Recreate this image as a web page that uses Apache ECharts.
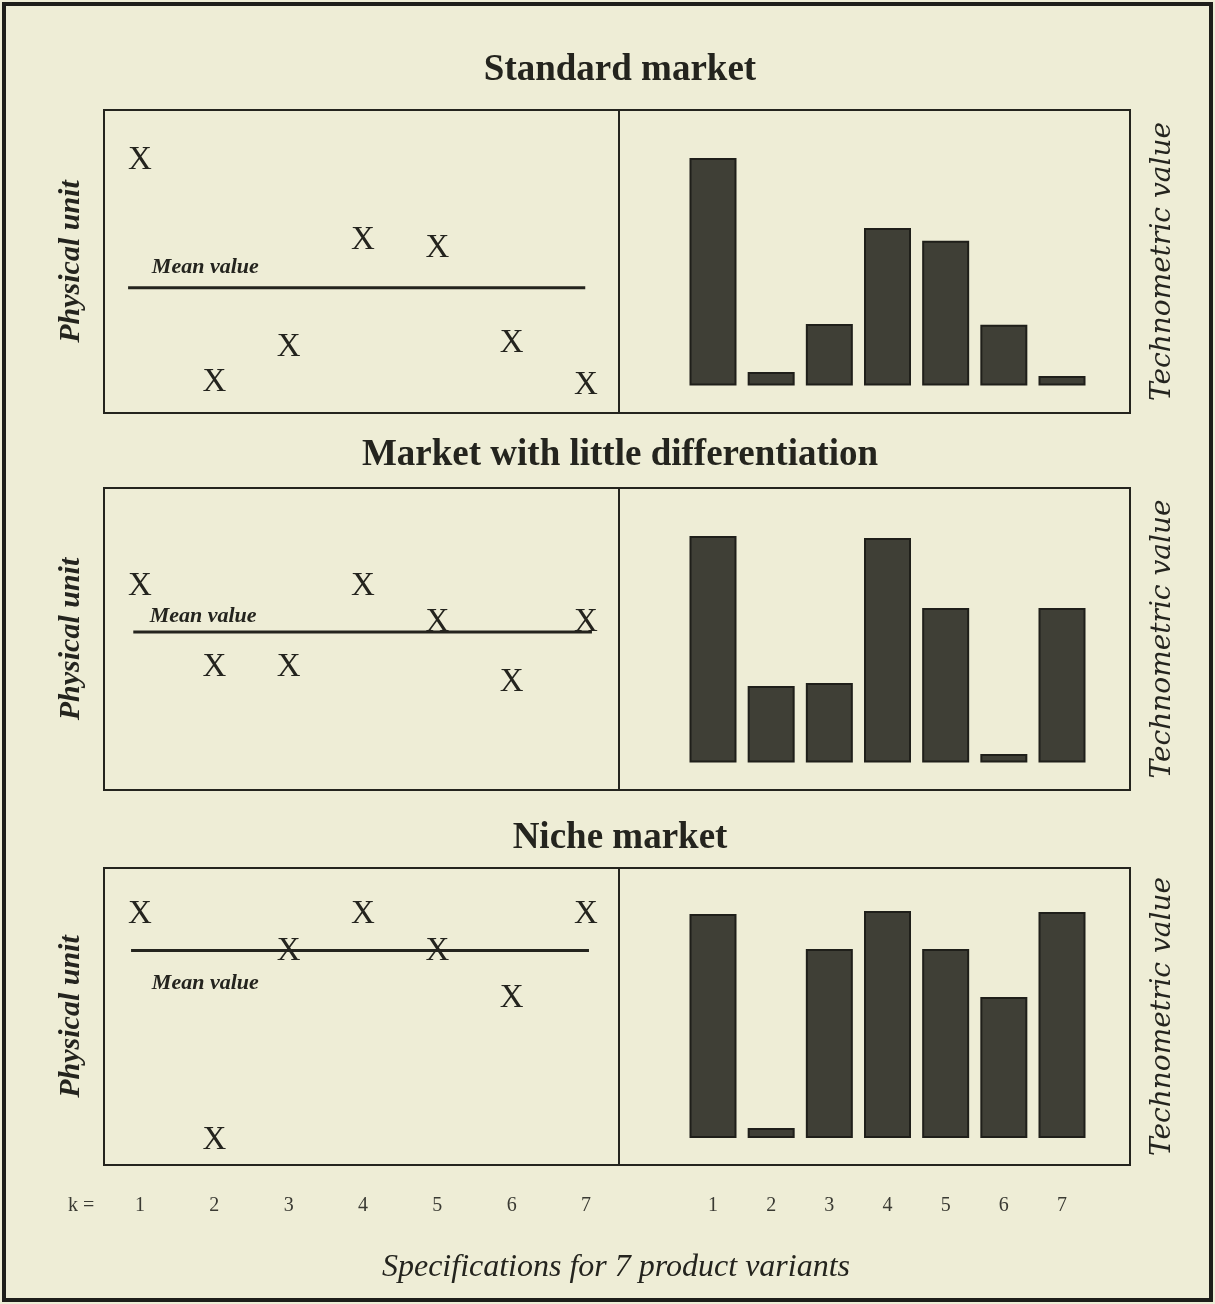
<!DOCTYPE html>
<html>
<head>
<meta charset="utf-8">
<script src="https://cdn.jsdelivr.net/npm/echarts@6/dist/echarts.min.js"></script>
<style>
html,body{margin:0;padding:0;background:#eeedd6;}
#chart{width:1215px;height:1304px;}
</style>
</head>
<body>
<div id="chart"></div>
<script>
// ---- data ----
const categories = [1, 2, 3, 4, 5, 6, 7];
const tickLabels = ['1', '2', '3', '4', '5', '6', '7'];
const panelTitles = ['Standard market', 'Market with little differentiation', 'Niche market'];
const physStandard = [8.35, 1.02, 2.18, 5.71, 5.45, 2.31, 0.92];
const physLittle   = [6.75, 4.07, 4.07, 6.75, 5.56, 3.58, 5.56];
const physNiche    = [8.45, 0.84, 7.21, 8.45, 7.21, 5.62, 8.45];
const meanValues = [4.13, 5.23, 7.22];
const meanStart  = [0.84, 0.91, 0.88];
const meanEnd    = [6.99, 7.08, 7.04];
const meanLabelX = [1.16, 1.13, 1.16];
const techStandard = [8.26, 0.49, 2.23, 5.72, 5.25, 2.20, 0.34];
const techLittle   = [8.25, 2.79, 2.90, 8.18, 5.63, 0.31, 5.63];
const techNiche    = [8.30, 0.37, 7.00, 8.41, 7.00, 5.22, 8.37];

const physSeries = [physStandard, physLittle, physNiche];
const techSeries = [techStandard, techLittle, techNiche];

// ---- layout ----
const W = 1215, H = 1304;
const boxTop = [110, 488, 868];
const boxBottom = [413, 790, 1165];
const leftX = 104, divX = 619, rightX = 1130;
const titleCY = [70, 455, 838];
const meanLabelDy = [-21, -16, 33];
const ink = '#24241e';
const serif = 'Liberation Serif';

const chart = echarts.init(document.getElementById('chart'), null, {renderer: 'canvas'});

const grids = [], xAxes = [], yAxes = [], series = [], graphics = [];
for (let p = 0; p < 3; p++) {
  const top = boxTop[p], bottom = H - boxBottom[p];
  grids.push({left: leftX, right: W - divX, top: top, bottom: bottom, show: true,
    borderColor: ink, borderWidth: 2, backgroundColor: 'transparent', containLabel: false});
  grids.push({left: divX, right: W - rightX, top: top, bottom: bottom, show: true,
    borderColor: ink, borderWidth: 2, backgroundColor: 'transparent', containLabel: false});
  const last = p === 2;
  const gs = p * 2, gb = p * 2 + 1;
  xAxes.push({type: 'value', gridIndex: gs, min: 0.516, max: 7.444,
    axisLine: {show: false}, axisTick: {show: false}, splitLine: {show: false},
    axisLabel: {show: last, customValues: categories, formatter: v => tickLabels[v - 1],
      margin: 31, fontFamily: serif, fontSize: 20, color: '#3a3a33'}});
  xAxes.push({type: 'value', gridIndex: gb, min: -0.616, max: 8.169,
    axisLine: {show: false}, axisTick: {show: false}, splitLine: {show: false},
    axisLabel: {show: last, customValues: categories, formatter: v => tickLabels[v - 1],
      margin: 31, fontFamily: serif, fontSize: 20, color: '#3a3a33'}});
  yAxes.push({type: 'value', gridIndex: gs, min: 0, max: 10,
    name: 'Physical unit', nameLocation: 'middle', nameRotate: 90, nameGap: 18,
    nameTextStyle: {fontFamily: serif, fontSize: 30, fontWeight: 'bold', fontStyle: 'italic', color: ink},
    axisLine: {show: false}, axisTick: {show: false}, splitLine: {show: false}, axisLabel: {show: false}});
  yAxes.push({type: 'value', gridIndex: gb, min: -1, max: 10, position: 'right',
    name: 'Technometric value', nameLocation: 'middle', nameRotate: 90, nameGap: 19,
    nameTextStyle: {fontFamily: 'DejaVu Serif', fontSize: 28, fontStyle: 'italic', color: ink},
    axisLine: {show: false}, axisTick: {show: false}, splitLine: {show: false}, axisLabel: {show: false}});

  // mean line
  series.push({type: 'line', xAxisIndex: gs, yAxisIndex: gs, symbol: 'none', silent: true,
    lineStyle: {color: ink, width: 3}, z: 2,
    data: [[meanStart[p], meanValues[p]], [meanEnd[p], meanValues[p]]]});
  // mean label
  series.push({type: 'scatter', xAxisIndex: gs, yAxisIndex: gs, symbolSize: 0, silent: true,
    itemStyle: {color: 'rgba(0,0,0,0)', opacity: 1},
    label: {show: true, formatter: 'Mean value', position: [0, meanLabelDy[p]], align: 'left', verticalAlign: 'middle',
      fontFamily: serif, fontSize: 22, fontStyle: 'italic', fontWeight: 'bold', color: ink, opacity: 1},
    data: [[meanLabelX[p], meanValues[p]]]});
  // X marks
  series.push({type: 'scatter', xAxisIndex: gs, yAxisIndex: gs, symbolSize: 1, silent: true, z: 3,
    itemStyle: {color: 'rgba(0,0,0,0)', opacity: 1},
    label: {show: true, formatter: 'X', position: 'inside', align: 'center', verticalAlign: 'middle',
      fontFamily: serif, fontSize: 33, color: ink, opacity: 1},
    data: categories.map((k, i) => [k, physSeries[p][i]])});
  // bars
  series.push({type: 'bar', xAxisIndex: gb, yAxisIndex: gb, barWidth: 47, silent: true,
    itemStyle: {color: '#3f3f36', borderColor: '#1f1f1a', borderWidth: 2},
    data: categories.map((k, i) => [k, techSeries[p][i]])});

  graphics.push({type: 'text', x: 620, y: titleCY[p], silent: true,
    style: {text: panelTitles[p], textAlign: 'center', textVerticalAlign: 'middle',
      font: 'bold 37px "Liberation Serif"', fill: ink}});
}
graphics.push({type: 'text', x: 616, y: 1268, silent: true,
  style: {text: 'Specifications for 7 product variants', textAlign: 'center', textVerticalAlign: 'middle',
    font: 'italic 32px "Liberation Serif"', fill: ink}});
graphics.push({type: 'rect', shape: {x: 4, y: 4, width: W - 8, height: H - 8},
  style: {fill: 'none', stroke: '#1e1e1a', lineWidth: 4}, silent: true});
graphics.push({type: 'text', x: 68, y: 1206, silent: true,
  style: {text: 'k =', textVerticalAlign: 'middle', font: '20px "Liberation Serif"', fill: '#3a3a33'}});

chart.setOption({
  backgroundColor: '#eeedd6',
  animation: false,
  grid: grids,
  xAxis: xAxes,
  yAxis: yAxes,
  series: series,
  graphic: graphics
});
</script>
</body>
</html>
